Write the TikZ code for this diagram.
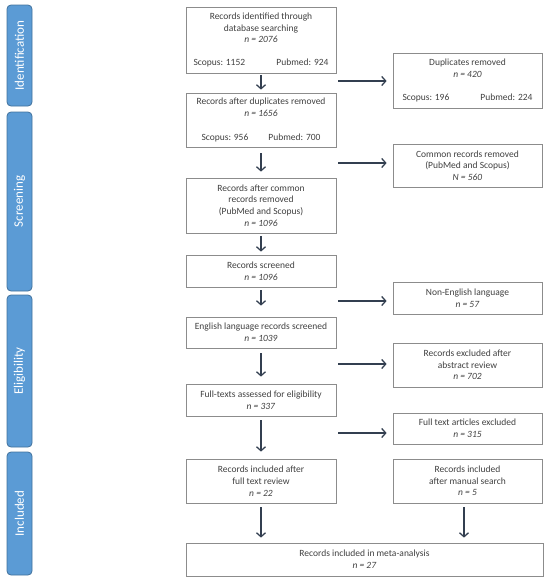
\documentclass[tikz,border=0pt]{standalone}
\usepackage{fontspec}
\setmainfont{Carlito}
\usetikzlibrary{arrows.meta}
\definecolor{barfill}{HTML}{5B9BD5}
\definecolor{barline}{HTML}{41719C}
\definecolor{boxline}{HTML}{8C8C8C}
\definecolor{txt}{HTML}{404040}
\definecolor{arrc}{HTML}{333F50}
\begin{document}
\begin{tikzpicture}[x=1pt,y=-1pt,
  box/.style={draw=boxline,line width=0.8pt,inner sep=0pt,text=txt,align=center,
    font=\fontsize{9.5}{11.7}\selectfont},
  lbox/.style={box,minimum width=150pt},
  rbox/.style={box,minimum width=149pt},
  bar/.style={fill=barfill,draw=barline,line width=0.8pt,rounded corners=4pt,
    minimum height=25pt,inner sep=0pt,text=white,rotate=90,
    font=\fontsize{13}{15}\selectfont},
  arr/.style={draw=arrc,line width=1.3pt,-{Straight Barb[length=4pt,width=9pt]}}]
\useasboundingbox (0,0) rectangle (550,584);

% side bars
\node[bar,minimum width=101pt] (s1) at (19.5,55.5) {Identification};
\node[bar,minimum width=179pt] (s2) at (19.5,201.5) {Screening};
\node[bar,minimum width=152pt] (s3) at (19.5,371) {Eligibility};
\node[bar,minimum width=123pt] (s4) at (19.5,513.5) {Included};

% left column
\node[lbox,minimum height=66pt] (b1) at (261,40) {Records identified through\\database searching\\\textit{n = 2076}\\[11pt]\makebox[135pt]{Scopus: 1152\hfill Pubmed: 924}};
\node[lbox,minimum height=54pt] (b2) at (261,120) {Records after duplicates removed\\\textit{n = 1656}\\[12pt]\makebox[119pt]{Scopus: 956\hfill Pubmed: 700}};
\node[lbox,minimum height=55pt] (b3) at (261,205.5) {Records after common\\records removed\\(PubMed and Scopus)\\\textit{n = 1096}};
\node[lbox,minimum height=32pt] (b4) at (261,271) {Records screened\\\textit{n = 1096}};
\node[lbox,minimum height=31pt] (b5) at (261,332.5) {English language records screened\\\textit{n = 1039}};
\node[lbox,minimum height=32pt] (b6) at (261,400) {Full-texts assessed for eligibility\\\textit{n = 337}};
\node[lbox,minimum height=44pt] (b7) at (261,481) {Records included after\\full text review\\\textit{n = 22}};
\node[box,minimum width=357pt,minimum height=33pt] (bf) at (364.5,559.5) {Records included in meta-analysis\\\textit{n = 27}};

% right column
\node[rbox,minimum height=55pt] (r1) at (467.5,80.5) {Duplicates removed\\\textit{n = 420}\\[11pt]\makebox[130pt]{Scopus: 196\hfill Pubmed: 224}};
\node[rbox,minimum height=43pt] (r2) at (467.5,165.5) {Common records removed\\(PubMed and Scopus)\\\textit{N = 560}};
\node[rbox,minimum height=32pt] (r3) at (467.5,298) {Non-English language\\\textit{n = 57}};
\node[rbox,minimum height=44pt] (r4) at (467.5,365) {Records excluded after\\abstract review\\\textit{n = 702}};
\node[rbox,minimum height=31pt] (r5) at (467.5,428.5) {Full text articles excluded\\\textit{n = 315}};
\node[rbox,minimum height=44pt] (r6) at (467.5,481) {Records included\\after manual search\\\textit{n = 5}};

% vertical arrows
\draw[arr,shorten <=2pt,shorten >=3pt] (b1) -- (b2);
\draw[arr,shorten <=6pt,shorten >=6pt] (b2) -- (b3);
\draw[arr,shorten <=3pt,shorten >=3pt] (b3) -- (b4);
\draw[arr,shorten <=3pt,shorten >=11pt] (b4) -- (b5);
\draw[arr,shorten <=5pt,shorten >=7pt] (b5) -- (b6);
\draw[arr,shorten <=4pt,shorten >=7pt] (b6) -- (b7);
\draw[arr,shorten <=4pt,shorten >=5pt] (b7) -- (b7.south |- bf.north);
\coordinate (r6s) at ([xshift=-3.5pt]r6.south);
\draw[arr,shorten <=4pt,shorten >=5pt] (r6s) -- (r6s |- bf.north);

% horizontal arrows
\coordinate (h1) at (336,81);
\coordinate (h2) at (336,163);
\coordinate (h3) at (336,301);
\coordinate (h4) at (336,364);
\coordinate (h5) at (336,433);
\draw[arr,shorten <=2pt,shorten >=6pt] (h1) -- (h1 -| r1.west);
\draw[arr,shorten <=2pt,shorten >=6pt] (h2) -- (h2 -| r2.west);
\draw[arr,shorten <=2pt,shorten >=6pt] (h3) -- (h3 -| r3.west);
\draw[arr,shorten <=2pt,shorten >=6pt] (h4) -- (h4 -| r4.west);
\draw[arr,shorten <=2pt,shorten >=6pt] (h5) -- (h5 -| r5.west);
\end{tikzpicture}
\end{document}
